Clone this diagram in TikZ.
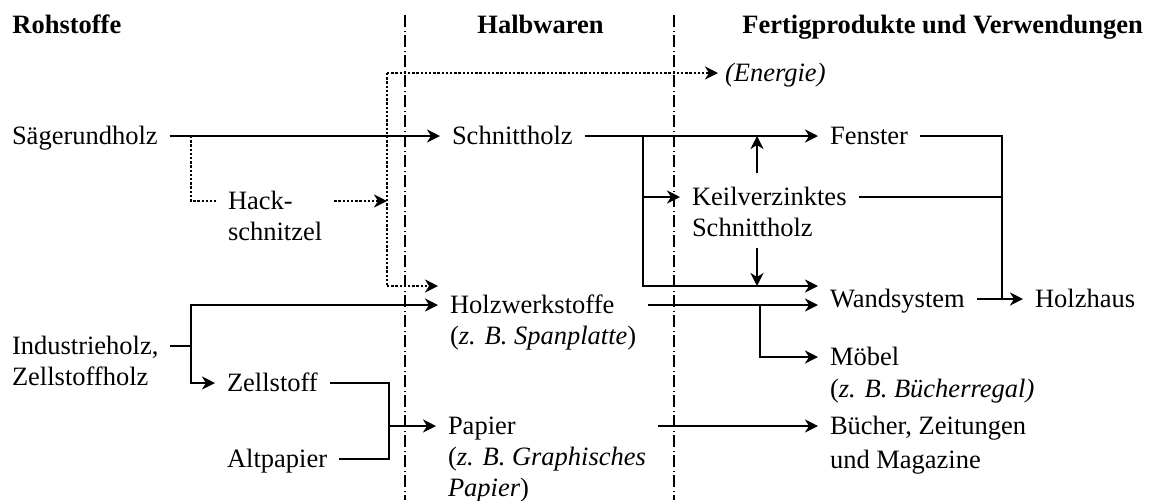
\documentclass[tikz,border=0pt]{standalone}
\usepackage{fontspec}
\setmainfont{Liberation Serif}
\usetikzlibrary{arrows.meta}
\newcommand\mlines[1]{\begin{tabular}[t]{@{}l@{}}#1\end{tabular}}
\begin{document}
\begin{tikzpicture}[x=0.5pt,y=-0.5pt,
  lbl/.style={anchor=west, inner sep=0pt, outer xsep=6pt, outer ysep=0pt,
    text height=8pt, text depth=0pt, font=\fontsize{13.25}{15.5}\selectfont},
  head/.style={anchor=base west, inner sep=0pt, font=\fontsize{13.25}{15.5}\selectfont\bfseries},
  conn/.style={line width=1.15pt},
  tip/.style={-{Stealth[length=6.5pt,width=6.5pt,inset=2pt]}},
  arr/.style={conn, tip},
  dotl/.style={line width=1.3pt, dash pattern=on 1.2pt off 0.9pt},
  dotarr/.style={dotl, tip},
  sepline/.style={line width=0.6pt, dash pattern=on 6pt off 2pt on 0.6pt off 1.4pt}]
\useasboundingbox (0,0) rectangle (1149,500);

% separators
\coordinate (s1t) at (405,15); \coordinate (s1b) at (405,500);
\coordinate (s2t) at (674,15); \coordinate (s2b) at (674,500);
\draw[sepline] (s1t) -- (s1b);
\draw[sepline] (s2t) -- (s2b);

% headers
\node[head] (hroh) at (12,33) {Rohstoffe};
\node[head] (hhalb) at (477,33) {Halbwaren};
\node[head] (hfert) at (742,33) {Fertigprodukte und Verwendungen};

% nodes
\node[lbl] (saege) at (0,136) {Sägerundholz};
\node[lbl] (hack) at (216,201) {\mlines{Hack-\\schnitzel}};
\node[lbl] (schnitt) at (440,136) {Schnittholz};
\node[lbl, outer xsep=3.5pt] (energie) at (718,73) {\textit{(Energie)}};
\node[lbl] (fenster) at (818,136) {Fenster};
\node[lbl] (keil) at (680,197) {\mlines{Keilverzinktes\\Schnittholz}};
\node[lbl] (wand) at (818,299) {Wandsystem};
\node[lbl] (holzhaus) at (1023,299) {Holzhaus};
\node[lbl] (holzw) at (438,305) {\mlines{Holzwerkstoffe\\(\textit{z. B. Spanplatte})}};
\node[lbl] (moebel) at (818,357) {\mlines{Möbel\\[0.5pt](\textit{z. B. Bücherregal)}}};
\node[lbl] (indus) at (0,346) {\mlines{Industrieholz,\\Zellstoffholz}};
\node[lbl] (zell) at (215,383) {Zellstoff};
\node[lbl] (alt) at (215,459) {Altpapier};
\node[lbl] (papier) at (436,426) {\mlines{Papier\\(\textit{z. B. Graphisches}\\\textit{Papier})}};
\node[lbl] (buecher) at (818,426) {\mlines{Bücher, Zeitungen\\[1.5pt]und Magazine}};

% junctions
\coordinate (d1) at (191,136);
\coordinate (eTop) at (387,73);
\coordinate (eBot) at (387,286);
\coordinate (b1) at (643,136);
\coordinate (ku) at (757,173);
\coordinate (kd) at (757,248);
\coordinate (hj) at (1002,299);
\coordinate (b2) at (760,305);
\coordinate (b3) at (191,346);
\coordinate (b4) at (389,426);
\coordinate (wIn1) at ([yshift=6.5pt]wand.west);

% connectors
\draw[arr] (saege.east) -- (schnitt.west);
\draw[dotl] (d1) |- (hack.west);
\draw[dotarr] (hack.east) -- (hack.east -| eTop);
\draw[dotl] (eTop) -- (eBot);
\draw[dotarr] (eTop) -- (energie.west);
\draw[dotarr] (eBot) -- (eBot -| holzw.west);
\draw[arr] (schnitt.east) -- (fenster.west);
\draw[arr] (b1) |- (wIn1);
\draw[arr] (b1 |- keil.west) -- (keil.west);
\draw[arr] (ku) -- (ku |- schnitt.east);
\draw[arr] (kd) -- (kd |- wIn1);
\draw[conn] (keil.east) -- (keil.east -| hj);
\draw[conn] (fenster.east) -| (hj);
\draw[arr] (wand.east) -- (holzhaus.west);
\draw[arr] (holzw.east) -- (holzw.east -| wand.west);
\draw[arr] (b2) |- (moebel.west);
\draw[conn] (indus.east) -- (b3);
\draw[arr] (b3) |- (holzw.west);
\draw[arr] (b3) |- (zell.west);
\draw[conn] (zell.east) -| (b4) |- (alt.east);
\draw[arr] (b4) -- (papier.west);
\draw[arr] (papier.east) -- (buecher.west);
\end{tikzpicture}
\end{document}
